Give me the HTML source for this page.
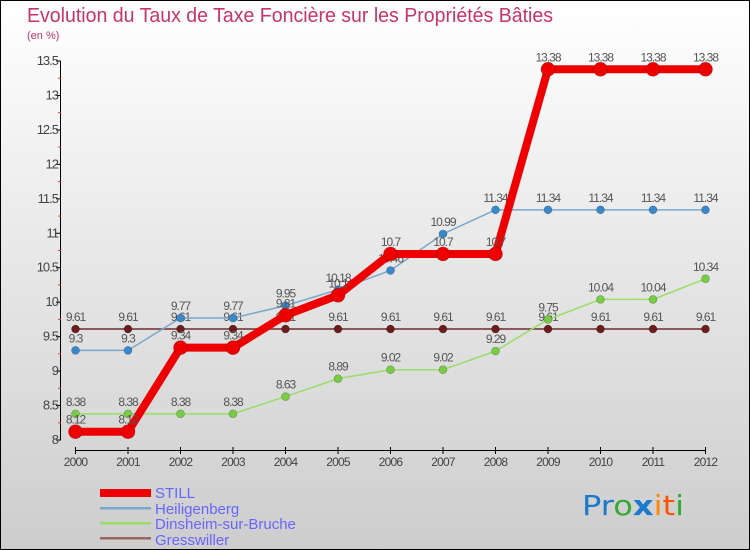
<!DOCTYPE html>
<html><head><meta charset="utf-8"><style>
body{margin:0;width:750px;height:550px;overflow:hidden}
svg{display:block;font-family:"Liberation Sans",sans-serif}
</style></head><body>
<svg id="chart" width="750" height="550">
<defs><linearGradient id="bg" x1="0" y1="0" x2="0" y2="1"><stop offset="0" stop-color="#ffffff"/><stop offset="1" stop-color="#cdcdcd"/></linearGradient></defs>
<rect x="0.5" y="0.5" width="749" height="549" fill="url(#bg)" stroke="#000"/>
<text x="27" y="22" font-size="20" fill="#c8336a" textLength="526" lengthAdjust="spacingAndGlyphs">Evolution du Taux de Taxe Foncière sur les Propriétés Bâties</text>
<text x="27" y="39" font-size="11" fill="#c8336a">(en %)</text>
<g id="axes"></g>
<g id="series"></g>
<g>
<rect x="100" y="489" width="51" height="8" fill="#e00"/>
<text x="155" y="498" font-size="15" fill="#6666ff">STILL</text>
<rect x="100" y="507" width="51" height="2.5" fill="#7aa8cc"/>
<text x="155" y="514" font-size="15" fill="#6666ff">Heiligenberg</text>
<rect x="100" y="522" width="51" height="2.5" fill="#99dd66"/>
<text x="155" y="529" font-size="15" fill="#6666ff">Dinsheim-sur-Bruche</text>
<rect x="100" y="537" width="51" height="2.5" fill="#996666"/>
<text x="155" y="545" font-size="15" fill="#6666ff">Gresswiller</text>
</g>
<g font-size="28" font-family="'DejaVu Sans',sans-serif">
<text x="582" y="515" textLength="102" lengthAdjust="spacingAndGlyphs"><tspan fill="#1a7acc">Pr</tspan><tspan fill="#33aa33">o</tspan><tspan fill="#1a7acc" font-weight="bold">x</tspan><tspan fill="#ff8800">i</tspan><tspan fill="#ff5500">t</tspan><tspan fill="#33aa33">i</tspan></text>
</g>
</svg>
<script>
const years=["2000","2001","2002","2003","2004","2005","2006","2007","2008","2009","2010","2011","2012"];
const yTicks=[8,8.5,9,9.5,10,10.5,11,11.5,12,12.5,13,13.5];
const still=[8.12,8.12,9.34,9.34,9.81,10.1,10.7,10.7,10.7,13.38,13.38,13.38,13.38];
const heiligenberg=[9.3,9.3,9.77,9.77,9.95,10.18,10.46,10.99,11.34,11.34,11.34,11.34,11.34];
const dinsheim=[8.38,8.38,8.38,8.38,8.63,8.89,9.02,9.02,9.29,9.75,10.04,10.04,10.34];
const gresswiller=[9.61,9.61,9.61,9.61,9.61,9.61,9.61,9.61,9.61,9.61,9.61,9.61,9.61];
const NS="http://www.w3.org/2000/svg";
function xS(i){return 75.5+i*(705.5-75.5)/(years.length-1);}
function yS(v){return 440-(v-8)*(379/5.5);}
function mk(tag,attrs,parent){const e=document.createElementNS(NS,tag);for(const k in attrs)e.setAttribute(k,attrs[k]);parent.appendChild(e);return e;}
const axes=document.getElementById('axes');
let yl=mk('line',{x1:60.5,y1:yS(13.5),x2:60.5,y2:440,stroke:'#000'},axes);


for(let v=8.25;v<13.5;v+=0.5){mk('line',{x1:58,x2:61,y1:yS(v),y2:yS(v),stroke:'#e33'},axes);}
yTicks.forEach(v=>{
  mk('line',{x1:56,x2:61,y1:yS(v),y2:yS(v),stroke:'#000'},axes);
  const t=mk('text',{x:58,y:yS(v)+4,'font-size':13,fill:'#444','text-anchor':'end','letter-spacing':'-1'},axes);
  t.textContent=String(v);
  
  
});
let xl=mk('line',{x1:75,y1:450.5,x2:706,y2:450.5,stroke:'#000'},axes);


years.forEach((y,i)=>{
  mk('line',{x1:xS(i),x2:xS(i),y1:447,y2:454,stroke:'#000'},axes);
  const t=mk('text',{x:xS(i),y:466,'font-size':12,fill:'#444','text-anchor':'middle','letter-spacing':'-0.8'},axes);
  t.textContent=y;
  
  
});
const sg=document.getElementById('series');
function draw(data,name,color,dot,w,r){
  const g=mk('g',{},sg);
  
  
  const pts=data.map((v,i)=>xS(i)+','+yS(v)).join(' ');
  mk('polyline',{points:pts,fill:'none',stroke:color,'stroke-width':w,'stroke-linejoin':'round'},g);
  data.forEach((v,i)=>{
    const c=mk('circle',{cx:xS(i),cy:yS(v),r:r,fill:dot,stroke:'rgba(0,0,0,0.25)','stroke-width':0.7},g);
    
    
    const t=mk('text',{x:xS(i),y:yS(v)-8,'font-size':12,fill:'#555','text-anchor':'middle','letter-spacing':'-1'},g);
    t.textContent=String(v);
    
    
  });
}
draw(gresswiller,'gresswiller','#8a5a5a','#6b1c1c',2,4);
draw(dinsheim,'dinsheim','#99dd66','#77cc44',1.5,4);
draw(heiligenberg,'heiligenberg','#7aa8cc','#3a88cc',1.5,4);
draw(still,'still','#ee0000','#ee0000',8,7);
</script>
</body></html>
